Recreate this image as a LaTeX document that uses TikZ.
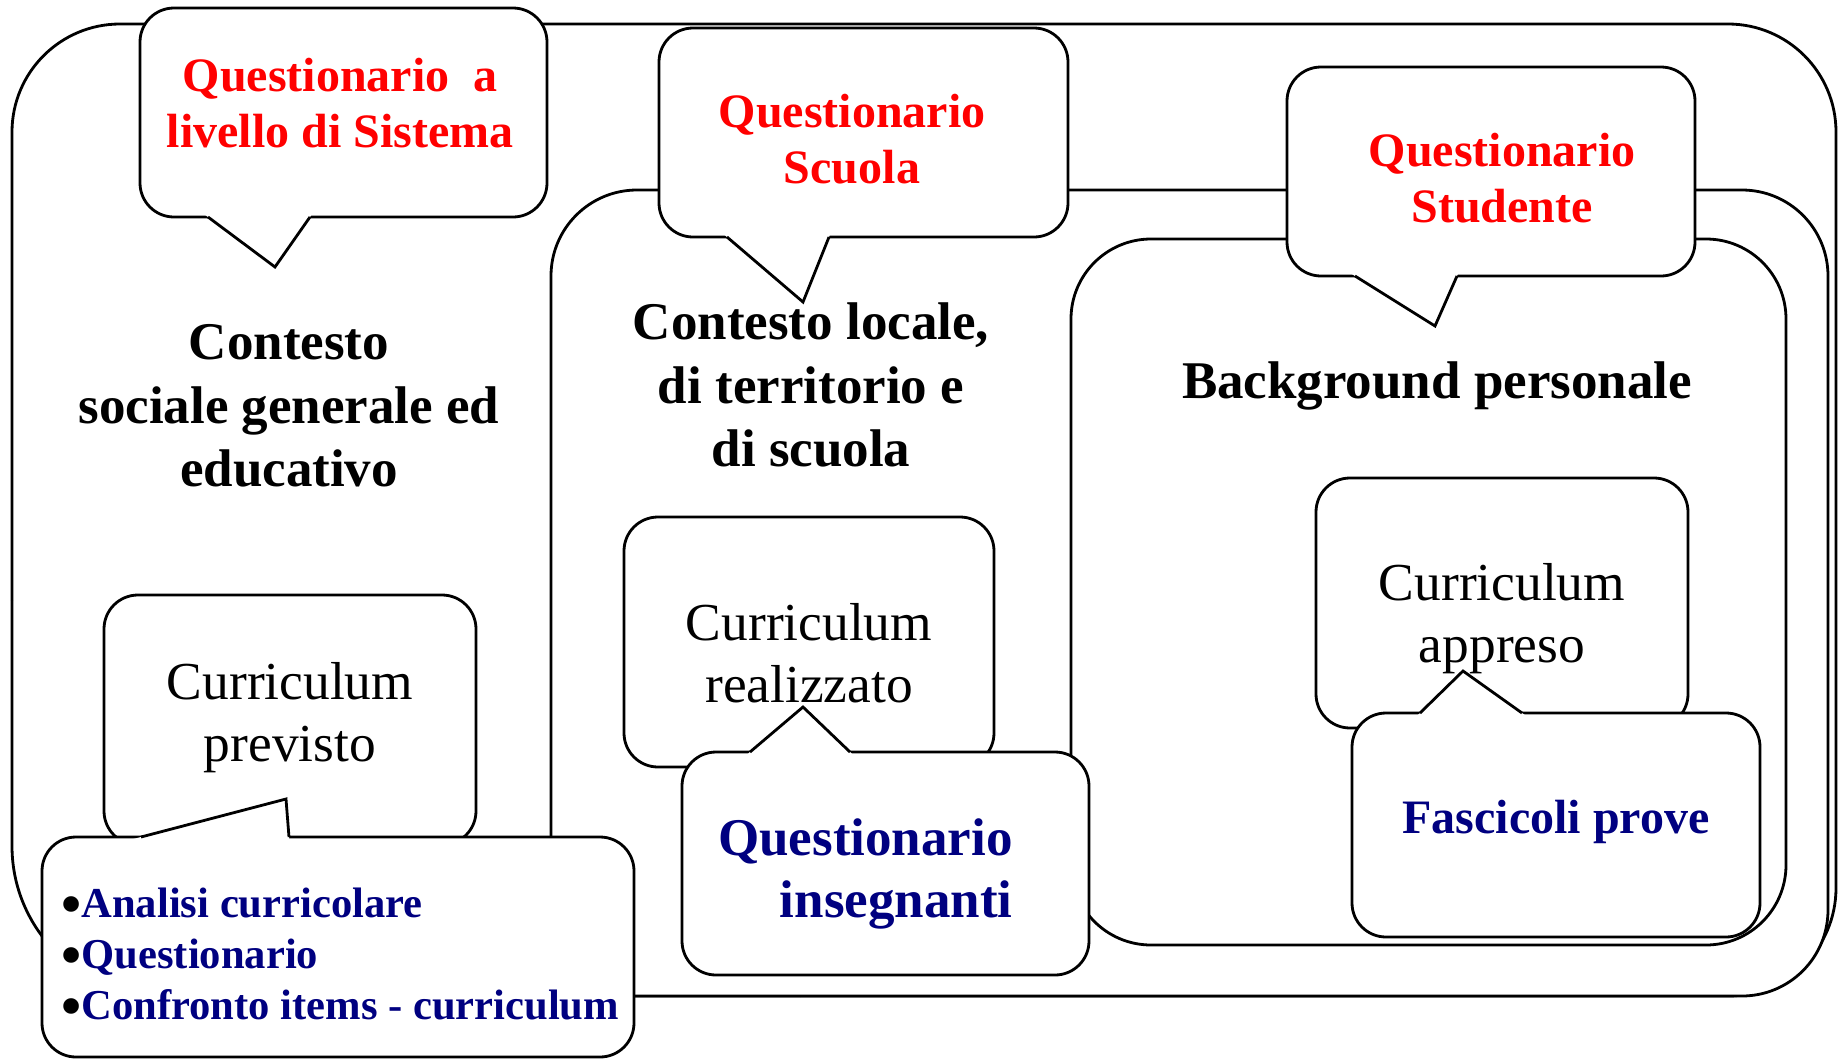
\documentclass[tikz,border=0pt]{standalone}
\usepackage{fontspec}
\setmainfont{Liberation Serif}
\usetikzlibrary{calc}
\definecolor{qred}{RGB}{255,0,0}
\definecolor{qnavy}{RGB}{0,0,128}
\newcommand{\mytail}[3]{%
  \fill[white] ($#1!-0.15!#2$) -- #2 -- ($#3!-0.15!#2$) -- cycle;
  \draw[tailst] #1 -- #2 -- #3;}
\newcommand{\mybul}{\smash{\raisebox{-3pt}{\scalebox{1.35}{•}}}}
\begin{document}
\begin{tikzpicture}[x=0.5pt,y=-0.5pt,
  linest/.style={draw=black,line width=1.4pt},
  bigst/.style={draw=black,fill=white,line width=1.4pt},
  boxst/.style={draw=black,fill=white,line width=1.4pt,rounded corners=17pt},
  tailst/.style={draw=black,line width=1.4pt,line join=miter},
  redtxt/.style={text=qred,font=\fontsize{24}{28}\selectfont\bfseries,align=center,inner sep=0pt},
  titletxt/.style={text=black,font=\fontsize{26.5}{31.75}\selectfont\bfseries,align=center,inner sep=0pt},
  curtxt/.style={text=black,font=\fontsize{26.7}{31}\selectfont,align=center,inner sep=0pt},
  navytxt/.style={text=qnavy,font=\fontsize{26.5}{31}\selectfont\bfseries,inner sep=0pt},
  listtxt/.style={text=black,font=\fontsize{21.3}{25.5}\selectfont\bfseries,align=left,inner sep=0pt}
]
\useasboundingbox (0,0) rectangle (1838,1061);

% outer box: contesto sociale
\draw[linest,rounded corners=54pt] (12,600) -- (12,24) -- (1836,24) -- (1836,996) -- (800,996);
\draw[linest,rounded corners=75pt] (800,996) -- (12,996) -- (12,600);

% Questionario a livello di Sistema
\filldraw[boxst] (140,8) rectangle (547,217);
\mytail{(208,217)}{(275,267)}{(310,217)}

% middle box: contesto locale
\filldraw[bigst,rounded corners=43pt] (551,190) rectangle (1828,996);

% Questionario Scuola
\filldraw[boxst] (659,28) rectangle (1068,237);
\mytail{(727,237)}{(803,302)}{(829,237)}

% inner box: background personale
\filldraw[bigst,rounded corners=40pt] (1071,239) rectangle (1786,945);

% Questionario Studente
\filldraw[boxst] (1287,67) rectangle (1695,276);
\mytail{(1355,276)}{(1435,326)}{(1457,276)}

% Curriculum previsto + Analisi
\filldraw[boxst] (104,595) rectangle (476,845);
\filldraw[boxst] (42,837) rectangle (634,1057);
\mytail{(141,837)}{(286,799)}{(289,837)}

% Curriculum realizzato + insegnanti
\filldraw[boxst] (624,517) rectangle (994,767);
\filldraw[boxst] (682,752) rectangle (1089,975);
\mytail{(750,752)}{(803,707)}{(850,752)}

% Curriculum appreso + Fascicoli
\filldraw[boxst] (1316,478) rectangle (1688,728);
\filldraw[boxst] (1352,713) rectangle (1760,937);
\mytail{(1420,713)}{(1463,671)}{(1522,713)}

% texts
\node[redtxt] (sistemaT) at (340,103.5) {Questionario~~a\\livello di Sistema};
\node[titletxt] (contestoT) at (289,406) {Contesto\\sociale generale ed\\educativo};
\node[redtxt] (scuolaT) at (852,139) {Questionario\\Scuola};
\node[titletxt] (localeT) at (811,385) {Contesto locale,\\di territorio e\\di scuola};
\node[redtxt] (studenteT) at (1502,178) {Questionario\\Studente};
\node[titletxt,anchor=base] (backT) at (1437,398) {Background personale};
\node[curtxt] (previstoT) at (290,717.5) {Curriculum\\previsto};
\node[curtxt] (realizT) at (809,653) {Curriculum\\realizzato};
\node[curtxt] (appresoT) at (1502,619) {Curriculum\\appreso};
\node[listtxt,anchor=west] (analisiT) at (61,954)
  {\mybul\textcolor{qnavy}{Analisi curricolare}\\\mybul\textcolor{qnavy}{Questionario}\\\mybul\textcolor{qnavy}{Confronto items - curriculum}};
\node[navytxt,align=right,anchor=east] (insegT) at (1013,874) {Questionario\\insegnanti};
\node[navytxt,font=\fontsize{24}{28}\selectfont\bfseries,anchor=base] (fascT) at (1556,833) {Fascicoli prove};
\end{tikzpicture}
\end{document}
